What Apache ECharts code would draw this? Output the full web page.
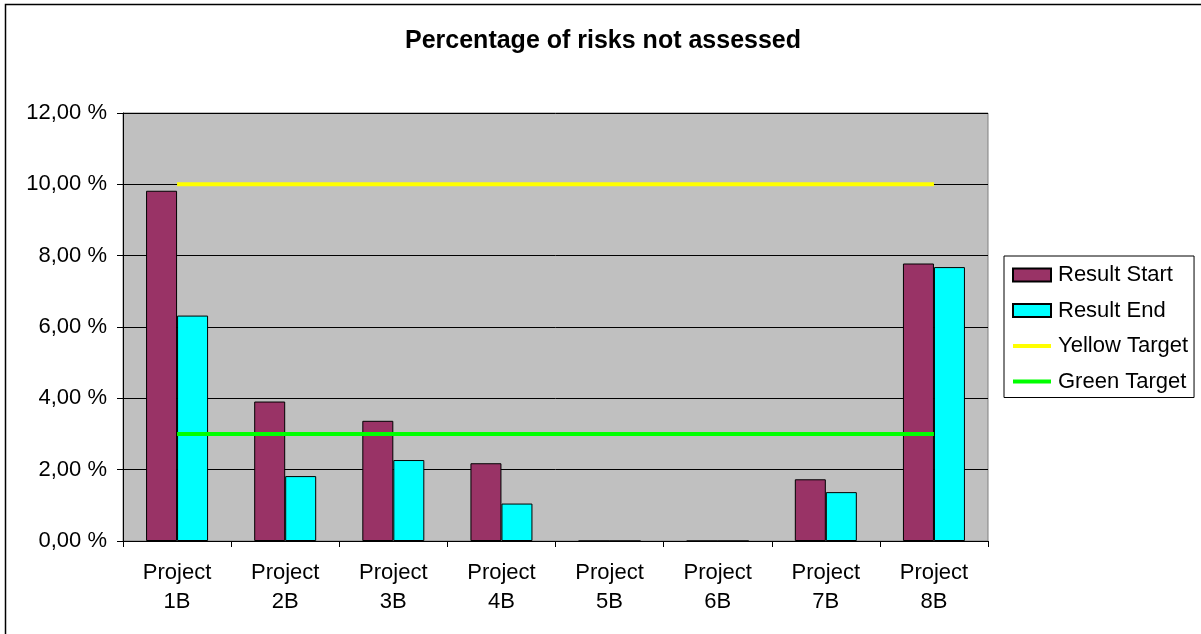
<!DOCTYPE html>
<html>
<head>
<meta charset="utf-8">
<title>Percentage of risks not assessed</title>
<script src="https://cdn.jsdelivr.net/npm/echarts@6/dist/echarts.min.js"></script>
<style>
  html, body { margin: 0; padding: 0; background: #fff; }
  #chart { width: 1201px; height: 634px; }
</style>
</head>
<body>
<div id="chart"></div>
<script>
// Projects on the category axis
const projects = ['Project\n1B', 'Project\n2B', 'Project\n3B', 'Project\n4B',
                  'Project\n5B', 'Project\n6B', 'Project\n7B', 'Project\n8B'];

// Share of risks not assessed, in percent
const resultStart = [9.82, 3.91, 3.37, 2.18, 0, 0, 1.73, 7.78];
const resultEnd   = [6.32, 1.82, 2.27, 1.05, 0, 0, 1.37, 7.68];

// Target levels, in percent
const yellowTarget = [10, 10, 10, 10, 10, 10, 10, 10];
const greenTarget  = [3, 3, 3, 3, 3, 3, 3, 3];

// Y axis range and step, in percent
const yMin = 0, yMax = 12, yStep = 2;

const FONT = "'Liberation Sans', Arial, sans-serif";

// thick horizontal stroke used as the legend key of the target lines
const LINE_ICON = 'path://M0,0 H40 V4 H0 Z';

const chart = echarts.init(document.getElementById('chart'), null, { renderer: 'canvas' });

chart.setOption({
  animation: false,
  backgroundColor: '#ffffff',
  textStyle: { fontFamily: FONT, color: '#000' },
  title: {
    text: 'Percentage of risks not assessed',
    left: 405,
    top: 29,
    padding: 0,
    textStyle: { fontFamily: FONT, fontSize: 25, fontWeight: 'bold', color: '#000' }
  },
  graphic: [{
    // outer frame of the chart
    type: 'rect',
    shape: { x: 5.5, y: 4.5, width: 1220, height: 660 },
    style: { fill: null, stroke: '#000', lineWidth: 1.5 },
    silent: true,
    z: 100
  }],
  legend: {
    orient: 'vertical',
    left: 1004,
    top: 256,
    padding: [8, 6, 5, 8],
    itemWidth: 38,
    itemHeight: 13,
    itemGap: 13.5,
    borderColor: '#000',
    borderWidth: 1,
    backgroundColor: '#fff',
    textStyle: { fontFamily: FONT, fontSize: 22, color: '#000', lineHeight: 22, padding: [0, 0, 0, 2] },
    data: [
      { name: 'Result Start', icon: 'rect' },
      { name: 'Result End', icon: 'rect' },
      { name: 'Yellow Target', icon: LINE_ICON, itemStyle: { borderWidth: 0 } },
      { name: 'Green Target', icon: LINE_ICON, itemStyle: { borderWidth: 0 } }
    ]
  },
  grid: {
    left: 123,
    top: 113,
    right: 213,
    bottom: 93,
    show: true,
    backgroundColor: '#C0C0C0',
    borderColor: '#808080',
    borderWidth: 1,
    containLabel: false
  },
  xAxis: {
    type: 'category',
    data: projects,
    boundaryGap: true,
    axisLine: { show: true, lineStyle: { color: '#000', width: 1 } },
    axisTick: { show: true, inside: false, length: 6, alignWithLabel: false, lineStyle: { color: '#000' } },
    axisLabel: {
      fontFamily: FONT, fontSize: 22, color: '#000',
      margin: 17, lineHeight: 29, interval: 0, align: 'center'
    },
    splitLine: { show: false }
  },
  yAxis: {
    type: 'value',
    min: yMin,
    max: yMax,
    interval: yStep,
    axisLine: { show: true, lineStyle: { color: '#000', width: 1 } },
    axisTick: { show: true, inside: false, length: 6, lineStyle: { color: '#000' } },
    axisLabel: {
      fontFamily: FONT, fontSize: 22, color: '#000', margin: 16,
      formatter: v => v.toFixed(2).replace('.', ',') + ' %'
    },
    splitLine: { show: true, lineStyle: { color: '#000', width: 1 } }
  },
  series: [
    {
      name: 'Result Start',
      type: 'bar',
      data: resultStart,
      barWidth: 31,
      barGap: '0%',
      itemStyle: { color: '#993366', borderColor: '#000', borderWidth: 1 }
    },
    {
      name: 'Result End',
      type: 'bar',
      data: resultEnd,
      barWidth: 31,
      barGap: '0%',
      itemStyle: { color: '#00FFFF', borderColor: '#000', borderWidth: 1 }
    },
    {
      name: 'Yellow Target',
      type: 'line',
      data: yellowTarget,
      symbol: 'none',
      showSymbol: false,
      lineStyle: { color: '#FFFF00', width: 4 },
      itemStyle: { color: '#FFFF00' },
      z: 5
    },
    {
      name: 'Green Target',
      type: 'line',
      data: greenTarget,
      symbol: 'none',
      showSymbol: false,
      lineStyle: { color: '#00FF00', width: 4 },
      itemStyle: { color: '#00FF00' },
      z: 5
    }
  ]
});
</script>
</body>
</html>
